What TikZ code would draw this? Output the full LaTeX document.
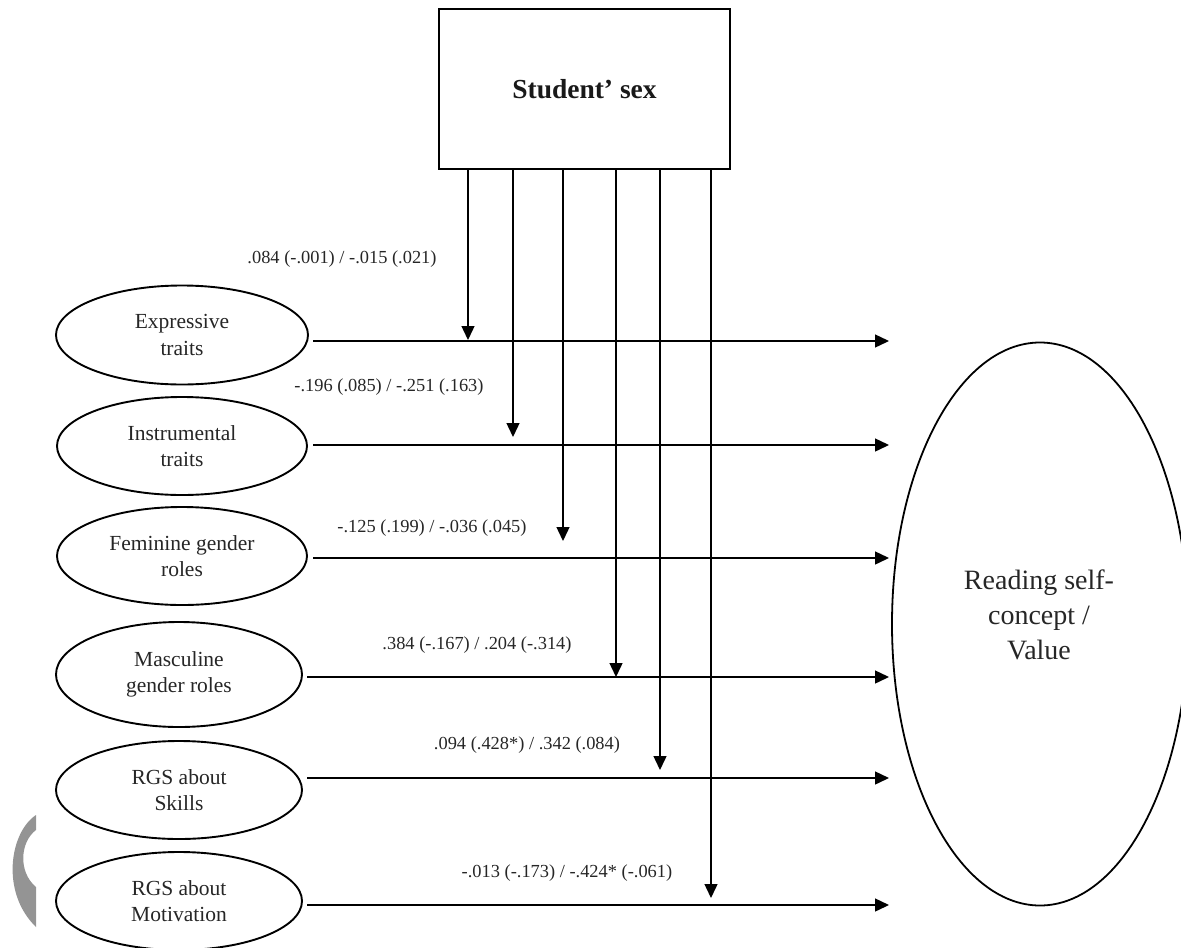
\documentclass[tikz,border=0pt]{standalone}
\usepackage{fontspec}
\setmainfont{Liberation Serif}
\usetikzlibrary{shapes.geometric,arrows.meta}
\begin{document}
\begin{tikzpicture}[x=1pt,y=-1pt,
  trait/.style={draw, ellipse, line width=1.9pt, inner sep=0pt, align=center,
    font=\fontsize{21.5}{26.5}\selectfont, text=black!85},
  link/.style={line width=1.4pt, -{Triangle[length=14pt,width=13pt]}},
  coef/.style={font=\fontsize{18.4}{22}\selectfont, text=black!85, inner sep=0pt}]
\useasboundingbox (0,0) rectangle (1181,948);
\clip (0,0) rectangle (1181,948);
% watermark crescent
\fill[black!42] (36,815) .. controls (10,832) and (0,892) .. (36,927) -- (36,887)
  .. controls (18,872) and (20,842) .. (36,830) -- cycle;
% sex box
\node[draw, line width=2pt, minimum width=291pt, minimum height=160pt, inner sep=0pt,
  font=\fontsize{27.5}{32}\selectfont\bfseries, text=black!90] (sex) at (584.5,89) {Student’ sex};
% outcome
\node[draw, ellipse, line width=1.8pt, minimum width=296pt, minimum height=563pt, inner sep=0pt] (rsc) at (1040,624) {};
\node[align=center, font=\fontsize{28}{35}\selectfont, text=black!85] (rsctext) at (1039,615) {Reading self-\\concept /\\Value};
% predictors
\node[trait, minimum width=252pt, minimum height=99pt] (e1) at (182,335) {Expressive\\traits};
\node[trait, minimum width=250pt, minimum height=98pt] (e2) at (182,446) {Instrumental\\traits};
\node[trait, minimum width=250pt, minimum height=98pt] (e3) at (182,556) {Feminine gender\\roles};
\node[trait, minimum width=246pt, minimum height=105pt] (e4) at (179,674.5) {Masculine\\gender roles};
\node[trait, minimum width=246pt, minimum height=98pt] (e5) at (179,790) {RGS about\\Skills};
\node[trait, minimum width=246pt, minimum height=98pt] (e6) at (179,901) {RGS about\\Motivation};
% horizontal line coordinates
\coordinate (s1) at (313,341); \coordinate (t1) at (889,341);
\coordinate (s2) at (313,445); \coordinate (t2) at (889,445);
\coordinate (s3) at (313,558); \coordinate (t3) at (889,558);
\coordinate (s4) at (307,677); \coordinate (t4) at (889,677);
\coordinate (s5) at (307,778); \coordinate (t5) at (889,778);
\coordinate (s6) at (307,905); \coordinate (t6) at (889,905);
\foreach \i in {1,...,6} {\draw[link] (s\i) -- (t\i);}
% moderating arrows
\coordinate (m1) at (468,340);
\coordinate (m2) at (513,437);
\coordinate (m3) at (563,541);
\coordinate (m4) at (616,677);
\coordinate (m5) at (660,770);
\coordinate (m6) at (711,898);
\foreach \i in {1,...,6} {\draw[link] (sex.south -| m\i) -- (m\i);}
% coefficients
\node[coef] (c1) at (342,259) {.084 (-.001) / -.015 (.021)};
\node[coef] (c2) at (389,387) {-.196 (.085) / -.251 (.163)};
\node[coef] (c3) at (432,528) {-.125 (.199) / -.036 (.045)};
\node[coef] (c4) at (477,645) {.384 (-.167) / .204 (-.314)};
\node[coef] (c5) at (527,745) {.094 (.428*) / .342 (.084)};
\node[coef] (c6) at (567,873) {-.013 (-.173) / -.424* (-.061)};
\end{tikzpicture}
\end{document}
